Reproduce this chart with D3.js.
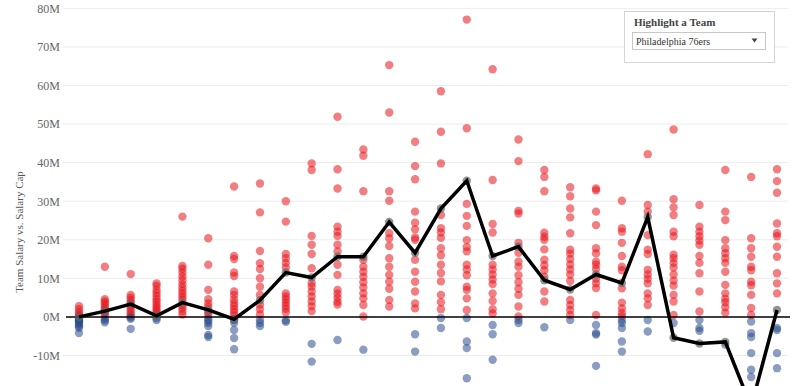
<!DOCTYPE html>
<html><head><meta charset="utf-8">
<script src="https://cdn.jsdelivr.net/npm/d3@7"></script>
<style>
html,body{margin:0;padding:0;background:#fff;overflow:hidden}
svg{display:block}
</style></head>
<body>
<svg id="chart" width="800" height="386"></svg>
<script>
const seasons = ["1984-85","1985-86","1986-87","1987-88","1988-89","1989-90","1990-91","1991-92","1992-93","1993-94","1994-95","1995-96","1996-97","1997-98","1998-99","1999-00","2000-01","2001-02","2002-03","2003-04","2004-05","2005-06","2006-07","2007-08","2008-09","2009-10","2010-11","2011-12"];

// Team salary minus salary cap (millions), one list per season
const teamValues = [
  [2.8, 2.0, 1.2, 0.6, 0.2, -0.3, -0.8, -1.2, -1.6, -2.0, -2.4, -2.8, -4.2, -0.5, -1.0],
  [13, 4.6, 4.0, 3.5, 2.8, 2.2, 1.6, 1.0, 0.5, -0.4, -0.9, -1.4],
  [11.1, 5.7, 5.0, 4.3, 3.6, 2.9, 2.2, 1.5, 0.8, 0.3, -0.2, -0.5, -3.1],
  [8.7, 8.0, 7.0, 6.2, 5.4, 4.6, 3.9, 3.2, 2.6, 2.0, 1.4, 0.8, -0.3, -0.8],
  [26.0, 13.2, 12.5, 11.5, 10.5, 9.5, 8.5, 7.6, 6.8, 6.0, 5.2, 4.5, 3.0, 2.3, 1.5, 0.6],
  [20.4, 13.5, 7.0, 4.6, 3.5, 2.6, 1.2, 0.5, -0.5, -1.0, -1.6, -2.4, -4.7, -5.2],
  [33.8, 15.8, 15.0, 11.5, 10.6, 6.6, 5.7, 4.5, 3.6, 2.8, 2.0, 1.2, 0.4, -0.8, -1.5, -3.4, -5.5, -8.4],
  [34.6, 27.1, 17.1, 13.9, 12.4, 10.0, 7.8, 5.7, 3.2, 2.0, 0.6, -0.8, -1.6, -2.4],
  [30.0, 24.7, 16.3, 15.2, 14.0, 12.8, 6.1, 5.3, 4.5, 3.7, 2.9, 2.1, 1.2, -0.9, -1.3],
  [39.8, 38.1, 21.0, 18.7, 16.3, 12.6, 8.8, 7.9, 6.6, 5.3, 4.0, 2.8, 1.5, -7.0, -11.6],
  [51.9, 38.3, 33.3, 23.4, 22.1, 21.0, 18.7, 17.0, 13.5, 10.9, 7.0, 6.0, 5.0, 3.9, 3.2, -6.0],
  [43.4, 41.8, 32.6, 14.8, 13.0, 11.7, 10.4, 9.0, 7.6, 6.1, 4.8, 3.1, 0.1, -8.5],
  [65.3, 53.0, 32.6, 30.1, 21.7, 20.4, 18.4, 15.2, 13.0, 10.9, 9.1, 7.3, 4.4, 2.7],
  [45.4, 39.1, 35.7, 27.3, 24.4, 22.7, 20.6, 20.0, 14.8, 11.7, 9.1, 6.6, 3.5, 2.2, -4.5, -9.0],
  [58.5, 48.0, 39.8, 26.4, 23.0, 21.9, 20.5, 17.8, 16.0, 13.5, 11.4, 9.2, 5.7, 3.8, 2.0, -0.3, -2.9],
  [77.1, 48.9, 29.3, 26.2, 23.6, 19.9, 18.1, 17.0, 13.5, 12.3, 10.8, 7.8, 7.0, 4.8, 1.8, -0.3, -6.4, -8.1, -15.9],
  [64.2, 35.5, 24.1, 21.9, 13.5, 12.3, 11.0, 9.7, 8.5, 6.1, 4.1, 2.0, 0.9, -2.1, -4.5, -11.1],
  [46.0, 40.4, 27.5, 26.8, 19.2, 16.6, 14.3, 13.0, 10.8, 9.0, 7.3, 5.7, 2.7, 0.1, -0.8, -1.6],
  [38.1, 36.3, 32.6, 21.8, 20.8, 20.0, 17.5, 14.8, 13.4, 12.1, 10.4, 6.6, 4.0, -2.7],
  [33.6, 31.3, 28.1, 25.8, 21.7, 17.4, 16.4, 15.0, 13.6, 12.3, 11.0, 9.3, 4.4, 3.1, 1.8, 0.5, -0.8],
  [33.3, 32.8, 27.3, 23.8, 17.8, 16.5, 14.3, 13.5, 12.4, 9.9, 8.7, 7.5, 0.5, -2.1, -4.2, -4.6, -12.7],
  [30.1, 23.0, 22.1, 19.2, 15.8, 13.0, 12.1, 7.4, 3.7, 2.2, 1.0, 0.2, -0.8, -1.6, -2.9, -6.4, -9.0],
  [42.2, 29.0, 27.3, 21.2, 17.4, 16.3, 12.2, 11.0, 9.9, 8.7, 6.1, 4.8, 3.1, -0.8, -3.8],
  [48.6, 30.5, 28.4, 26.4, 22.1, 20.9, 16.1, 15.2, 14.0, 12.8, 11.0, 9.4, 8.1, 5.7, 4.0, 0.5, -1.6],
  [29.0, 23.4, 22.1, 20.9, 19.8, 18.7, 15.8, 14.0, 11.3, 6.6, 1.4, -0.8, -2.9, -3.6],
  [38.1, 27.3, 25.1, 19.9, 17.8, 16.5, 15.2, 14.0, 11.7, 8.3, 6.1, 4.7, 3.8, 2.5, 1.1, -7.2],
  [36.3, 20.4, 17.8, 15.6, 13.0, 12.1, 9.1, 8.2, 5.7, 2.3, 0.5, -1.2, -4.2, -5.2, -9.4, -13.7, -15.6],
  [38.3, 35.2, 32.2, 24.2, 21.7, 20.9, 18.2, 15.6, 11.3, 8.7, 6.1, -2.9, -3.4, -9.4, -13.3]
];

// Highlighted team: Philadelphia 76ers
const highlightTeam = "Philadelphia 76ers";
const sixers = [0, 1.5, 3.3, 0.3, 3.7, 1.8, -0.6, 4.3, 11.5, 10.2, 15.6, 15.6, 24.6, 16.6, 28.1, 35.3, 15.8, 18.2, 9.5, 7.1, 11.0, 8.8, 25.9, -5.4, -6.9, -6.5, -23.3, 1.8];

const yTicks = [-10, 0, 10, 20, 30, 40, 50, 60, 70, 80];

const svg = d3.select("#chart");
const x = d3.scalePoint().domain(seasons).range([79, 777]);
const y = d3.scaleLinear().domain([-20, 80]).range([394, 8.4]);

const serif = "'Liberation Serif', 'DejaVu Serif', serif";

// gridlines
svg.append("g").selectAll("line").data(yTicks.filter(d => d !== 0)).join("line")
  .attr("x1", 63).attr("x2", 788)
  .attr("y1", d => y(d)).attr("y2", d => y(d))
  .attr("stroke", "#ececec").attr("stroke-width", 1);

// y axis labels
const yAxis = d3.axisLeft(y).tickValues(yTicks).tickSize(0).tickPadding(0)
  .tickFormat(d => d + "M");
const ga = svg.append("g").attr("transform", "translate(60,0)").call(yAxis);
ga.select(".domain").remove();
ga.selectAll("text").attr("font-family", serif).attr("font-size", 12).attr("fill", "#666");

// axis title
svg.append("text")
  .attr("transform", "translate(23,232) rotate(-90)")
  .attr("text-anchor", "middle")
  .attr("font-family", serif).attr("font-size", 11).attr("fill", "#555")
  .text("Team Salary vs. Salary Cap");

// dots
const pts = [];
teamValues.forEach((vals, i) => vals.forEach(v => pts.push({s: seasons[i], v})));
svg.append("g").selectAll("circle").data(pts).join("circle")
  .attr("cx", d => x(d.s)).attr("cy", d => y(d.v)).attr("r", 4.2)
  .attr("fill", d => d.v >= 0 ? "#e8141b" : "#2b4c8c")
  .attr("fill-opacity", 0.55);

// zero line
svg.append("line").attr("x1", 66).attr("x2", 790)
  .attr("y1", y(0)).attr("y2", y(0)).attr("stroke", "#000").attr("stroke-width", 1.5);

// highlighted team
const line = d3.line().x((d, i) => x(seasons[i])).y(d => y(d));
svg.append("g").selectAll("circle").data(sixers).join("circle")
  .attr("cx", (d, i) => x(seasons[i])).attr("cy", d => y(d)).attr("r", 4.2)
  .attr("fill", "#666").attr("fill-opacity", 0.7);
svg.append("path").datum(sixers).attr("d", line)
  .attr("fill", "none").attr("stroke", "#000").attr("stroke-width", 3.5)
  .attr("stroke-linejoin", "miter");

// highlight box
const box = svg.append("g");
box.append("rect").attr("x", 624.5).attr("y", 11.5).attr("width", 150).attr("height", 51)
  .attr("fill", "#fff").attr("stroke", "#d4d4d4");
box.append("text").attr("x", 634).attr("y", 26)
  .attr("font-family", serif).attr("font-size", 11).attr("font-weight", "bold").attr("fill", "#444")
  .text("Highlight a Team");
box.append("rect").attr("x", 632.5).attr("y", 32.5).attr("width", 133).attr("height", 17)
  .attr("fill", "#fff").attr("stroke", "#c8c8c8");
box.append("text").attr("x", 636).attr("y", 44.5)
  .attr("font-family", serif).attr("font-size", 10).attr("fill", "#333")
  .text(highlightTeam);
box.append("path").attr("d", "M751.5,38.5 L757.5,38.5 L754.5,42.5 Z").attr("fill", "#444");
</script>
</body></html>
